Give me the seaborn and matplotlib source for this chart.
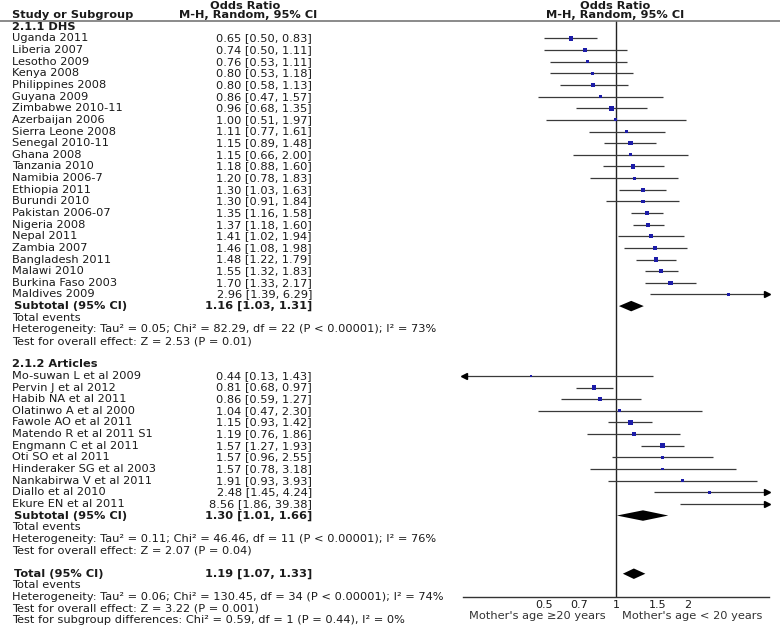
import numpy as np
import pandas as pd
import seaborn as sns
import matplotlib.pyplot as plt
from matplotlib.lines import Line2D
from matplotlib.transforms import blended_transform_factory

# Dados: estudos do subgrupo DHS
dhs_names = ['Uganda 2011', 'Liberia 2007', 'Lesotho 2009', 'Kenya 2008', 'Philippines 2008',
             'Guyana 2009', 'Zimbabwe 2010-11', 'Azerbaijan 2006', 'Sierra Leone 2008',
             'Senegal 2010-11', 'Ghana 2008', 'Tanzania 2010', 'Namibia 2006-7', 'Ethiopia 2011',
             'Burundi 2010', 'Pakistan 2006-07', 'Nigeria 2008', 'Nepal 2011', 'Zambia 2007',
             'Bangladesh 2011', 'Malawi 2010', 'Burkina Faso 2003', 'Maldives 2009']
dhs_or = [0.65, 0.74, 0.76, 0.80, 0.80, 0.86, 0.96, 1.00, 1.11, 1.15, 1.15, 1.18, 1.20, 1.30,
          1.30, 1.35, 1.37, 1.41, 1.46, 1.48, 1.55, 1.70, 2.96]
dhs_lo = [0.50, 0.50, 0.53, 0.53, 0.58, 0.47, 0.68, 0.51, 0.77, 0.89, 0.66, 0.88, 0.78, 1.03,
          0.91, 1.16, 1.18, 1.02, 1.08, 1.22, 1.32, 1.33, 1.39]
dhs_hi = [0.83, 1.11, 1.11, 1.18, 1.13, 1.57, 1.35, 1.97, 1.61, 1.48, 2.00, 1.60, 1.83, 1.63,
          1.84, 1.58, 1.60, 1.94, 1.98, 1.79, 1.83, 2.17, 6.29]
dhs_w = [3, 3, 2, 2, 3, 2, 3.5, 2, 2, 3.5, 2, 3, 2, 3, 2.5, 3.5, 3, 3, 3, 3, 3, 3.5, 2]

# Dados: estudos do subgrupo Articles
art_names = ['Mo-suwan L et al 2009', 'Pervin J et al 2012', 'Habib NA et al 2011',
             'Olatinwo A et al 2000', 'Fawole AO et al 2011', 'Matendo R et al 2011 S1',
             'Engmann C et al 2011', 'Oti SO et al 2011', 'Hinderaker SG et al 2003',
             'Nankabirwa V et al 2011', 'Diallo et al 2010', 'Ekure EN et al 2011']
art_or = [0.44, 0.81, 0.86, 1.04, 1.15, 1.19, 1.57, 1.57, 1.57, 1.91, 2.48, 8.56]
art_lo = [0.13, 0.68, 0.59, 0.47, 0.93, 0.76, 1.27, 0.96, 0.78, 0.93, 1.45, 1.86]
art_hi = [1.43, 0.97, 1.27, 2.30, 1.42, 1.86, 1.93, 2.55, 3.18, 3.93, 4.24, 39.38]
art_w = [1.5, 3.5, 2.5, 2, 3.5, 3, 3.5, 2.5, 2, 2, 2, 1.5]

# Estimativas combinadas (subtotal DHS, subtotal Articles, total)
pooled_labels = ['Subtotal (95% CI)', 'Subtotal (95% CI)', 'Total (95% CI)']
pooled_or = [1.16, 1.30, 1.19]
pooled_lo = [1.03, 1.01, 1.07]
pooled_hi = [1.31, 1.66, 1.33]

het_text = [
    ['Total events',
     'Heterogeneity: Tau\u00b2 = 0.05; Chi\u00b2 = 82.29, df = 22 (P < 0.00001); I\u00b2 = 73%',
     'Test for overall effect: Z = 2.53 (P = 0.01)'],
    ['Total events',
     'Heterogeneity: Tau\u00b2 = 0.11; Chi\u00b2 = 46.46, df = 11 (P < 0.00001); I\u00b2 = 76%',
     'Test for overall effect: Z = 2.07 (P = 0.04)'],
    ['Total events',
     'Heterogeneity: Tau\u00b2 = 0.06; Chi\u00b2 = 130.45, df = 34 (P < 0.00001); I\u00b2 = 74%',
     'Test for overall effect: Z = 3.22 (P = 0.001)',
     'Test for subgroup differences: Chi\u00b2 = 0.59, df = 1 (P = 0.44), I\u00b2 = 0%'],
]
ticks = [0.5, 0.7, 1, 1.5, 2]
tick_labels = ['0.5', '0.7', '1', '1.5', '2']

# Montagem da tabela (linhas do gráfico)
df = pd.concat([
    pd.DataFrame({'name': dhs_names, 'or': dhs_or, 'lo': dhs_lo, 'hi': dhs_hi, 'w': dhs_w,
                  'row': np.arange(len(dhs_names))}),
    pd.DataFrame({'name': art_names, 'or': art_or, 'lo': art_lo, 'hi': art_hi, 'w': art_w,
                  'row': 29 + np.arange(len(art_names))}),
], ignore_index=True)
pooled_rows = [23, 41, 46]

XLIM = (0.2275, 4.395)
CLIP = (0.25, 4.0)
FS = 8.2
TXT = '#1a1a1a'

sns.set_theme(style="white")
plt.rcParams['font.family'] = ['DejaVu Sans']

fig = plt.figure(figsize=(7.8, 6.26), dpi=100)
ax = fig.add_axes([462.7 / 780, 1 - 597 / 626, 306.3 / 780, 576 / 626])
ax.set_xscale('log')
ax.set_xlim(*XLIM)
ax.set_ylim(48, -1.5)

# Intervalos de confiança
lo_draw = np.where(df['lo'] < CLIP[0], XLIM[0], df['lo'])
hi_draw = np.where(df['hi'] > CLIP[1], XLIM[1], df['hi'])
ax.hlines(df['row'], lo_draw, hi_draw, color='#3a3a3a', lw=0.9, zorder=2)
right = df[df['hi'] > CLIP[1]]
left = df[df['lo'] < CLIP[0]]
ax.plot(np.full(len(right), XLIM[1] * 0.985), right['row'], linestyle='none', marker='>',
        color='black', markersize=4.5, clip_on=False, zorder=3)
ax.plot(np.full(len(left), XLIM[0] / 0.985), left['row'], linestyle='none', marker='<',
        color='black', markersize=4.5, clip_on=False, zorder=3)

# Estimativas pontuais
sns.scatterplot(data=df, x='or', y='row', size='w', sizes=(2, 11), marker='s',
                color='#1c1ca8', linewidth=0, legend=False, ax=ax, zorder=4)

# Losangos das estimativas combinadas
for r, o, lo, hi in zip(pooled_rows, pooled_or, pooled_lo, pooled_hi):
    h = 0.45
    ax.fill([lo, o, hi, o], [r, r - h, r, r + h], color='black', lw=0, zorder=4)

ax.axvline(1, color='#222222', lw=1, zorder=1)

for s in ['top', 'right', 'left']:
    ax.spines[s].set_visible(False)
ax.spines['bottom'].set_color('#333333')
ax.spines['bottom'].set_linewidth(1)
ax.set_xticks(ticks)
ax.set_xticklabels(tick_labels, fontsize=8, color=TXT)
ax.minorticks_off()
ax.tick_params(axis='x', direction='inout', length=6, width=0.9, pad=-1, color='#333333')
ax.set_yticks([])
ax.set_xlabel('')
ax.set_ylabel('')

# Texto da tabela à esquerda
tr = blended_transform_factory(fig.transFigure, ax.transData)
xn = 12 / 780
xv = 312 / 780


def put(x, y, s, **kw):
    kw.setdefault('color', TXT)
    ax.text(x, y, s, transform=tr, fontsize=FS, va='center', clip_on=False, **kw)


put(xn, -2.05, 'Study or Subgroup', weight='bold')
put(245 / 780, -2.78, 'Odds Ratio', weight='bold', ha='center')
put(248 / 780, -2.05, 'M-H, Random, 95% CI', weight='bold', ha='center')
put(615 / 780, -2.78, 'Odds Ratio', weight='bold', ha='center')
put(615 / 780, -2.05, 'M-H, Random, 95% CI', weight='bold', ha='center')
fig.add_artist(Line2D([0, 1], [1 - 21 / 626, 1 - 21 / 626], transform=fig.transFigure,
                      color='#777777', lw=1.2))

put(xn, -1, '2.1.1 DHS', weight='bold')
put(xn, 28, '2.1.2 Articles', weight='bold')
for _, row in df.iterrows():
    put(xn, row['row'], row['name'])
    put(xv, row['row'], f"{row['or']:.2f} [{row['lo']:.2f}, {row['hi']:.2f}]", ha='right')
for r, lab, o, lo, hi in zip(pooled_rows, pooled_labels, pooled_or, pooled_lo, pooled_hi):
    put(xn + 0.002, r, lab, weight='bold')
    put(xv, r, f'{o:.2f} [{lo:.2f}, {hi:.2f}]', weight='bold', ha='right')

for r, lines in zip(pooled_rows, het_text):
    for k, s in enumerate(lines, start=1):
        put(xn, r + k, s)

put(606 / 780, 49.6, "Mother's age \u226520 years", ha='right', color='#333333')
put(622 / 780, 49.6, "Mother's age < 20 years", ha='left', color='#333333')

plt.savefig('out.png', dpi=100)
